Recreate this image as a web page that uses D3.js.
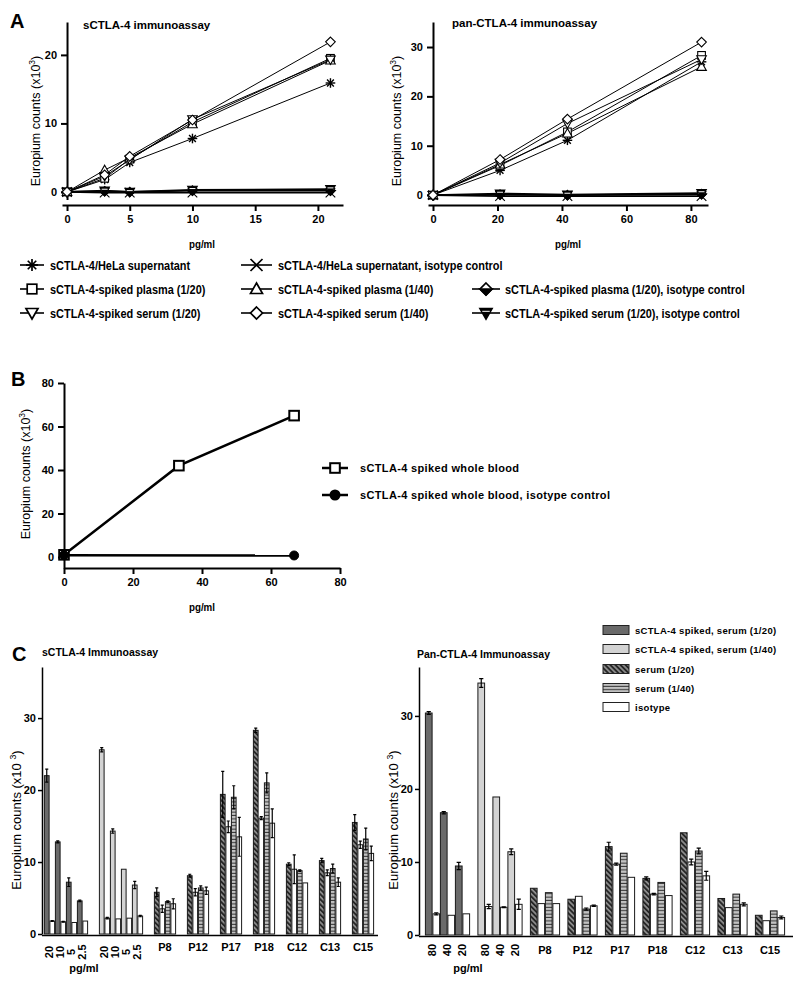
<!DOCTYPE html>
<html><head><meta charset="utf-8">
<script src="https://cdn.jsdelivr.net/npm/d3@7/dist/d3.min.js"></script>
<style>body{margin:0;background:#fff}svg{display:block}</style>
</head><body>
<script>
// ---------------- DATA ----------------
// Panel A (left): sCTLA-4 immunoassay
const aLeftX = [0, 3, 5, 10, 21];
const aLeftHela = [0, 1.8, 4.3, 7.8, 15.9];
const aLeftHelaIso = [0, -0.1, -0.1, -0.1, -0.1];
const aLeftPlasma20 = [0, 2.0, 4.8, 10.2, 19.5];
const aLeftPlasma40 = [0, 3.2, 5.0, 9.9, 19.2];
const aLeftPlasma20Iso = [0, 0.1, 0.0, 0.2, 0.2];
const aLeftSerum20 = [0, 2.3, 4.7, 10.6, 19.3];
const aLeftSerum40 = [0, 2.5, 5.2, 10.5, 21.9];
const aLeftSerum20Iso = [0, 0.2, 0.0, 0.3, 0.4];
const aLeftXTicks = [0, 5, 10, 15, 20];
const aLeftYTicks = [0, 10, 20];
// Panel A (right): pan-CTLA-4 immunoassay
const aRightX = [0, 20.8, 41.7, 83.3];
const aRightHela = [0, 5.0, 11.1, 27.0];
const aRightHelaIso = [0, -0.2, -0.2, -0.2];
const aRightPlasma20 = [0, 6.0, 12.8, 28.3];
const aRightPlasma40 = [0, 6.2, 12.5, 26.0];
const aRightPlasma20Iso = [0, 0.1, 0.0, 0.2];
const aRightSerum20 = [0, 6.5, 14.5, 27.5];
const aRightSerum40 = [0, 7.2, 15.4, 31.0];
const aRightSerum20Iso = [0, 0.3, 0.1, 0.4];
const aRightXTicks = [0, 20, 40, 60, 80];
const aRightYTicks = [0, 10, 20, 30];
const aSeriesNames = ["sCTLA-4/HeLa supernatant", "sCTLA-4/HeLa supernatant, isotype control",
  "sCTLA-4-spiked plasma (1/20)", "sCTLA-4-spiked plasma (1/40)", "sCTLA-4-spiked plasma (1/20), isotype control",
  "sCTLA-4-spiked serum (1/20)", "sCTLA-4-spiked serum (1/40)", "sCTLA-4-spiked serum (1/20), isotype control"];
const aSeriesMarkers = ["star", "x", "square", "triUp", "diamondHalf", "triDown", "diamond", "triDownHalf"];
// Panel B
const bX = [0, 33.3, 66.7];
const bBlood = [1, 42, 65];
const bIsoX = [0, 66.7];
const bBloodIso = [0.8, 0.7];
const bTicks = [0, 20, 40, 60, 80];
const bSeriesNames = ["sCTLA-4 spiked whole blood", "sCTLA-4 spiked whole blood, isotype control"];
// Panel C
const patients = ["P8", "P12", "P17", "P18", "C12", "C13", "C15"];
const cLeftConc = ["20", "10", "5", "2.5"];
const cLeftSpiked20 = [22.0, 12.8, 7.2, 4.6];
const cLeftSpiked20Err = [0.9, 0.15, 0.6, 0.1];
const cLeftSpiked20Iso = [1.8, 1.7, 1.6, 1.8];
const cLeftSpiked20IsoErr = [0.05, 0.05, 0, 0];
const cLeftSpiked40 = [25.6, 14.3, 9.0, 6.8];
const cLeftSpiked40Err = [0.3, 0.3, 0, 0.5];
const cLeftSpiked40Iso = [2.2, 2.1, 2.2, 2.5];
const cLeftSpiked40IsoErr = [0.1, 0, 0, 0.1];
const cLeftSerum20 = [5.8, 8.1, 19.4, 28.3, 9.7, 10.2, 15.5];
const cLeftSerum20Err = [0.6, 0.2, 3.2, 0.3, 0.2, 0.3, 1.1];
const cLeftSerum20Iso = [3.5, 5.8, 14.9, 16.1, 9.0, 8.5, 12.4];
const cLeftSerum20IsoErr = [0.5, 0.5, 0.8, 0.2, 2.0, 0.4, 0.5];
const cLeftSerum40 = [4.5, 6.4, 19.0, 21.0, 8.8, 9.1, 13.2];
const cLeftSerum40Err = [0.1, 0.3, 1.6, 1.4, 0.1, 0.6, 1.5];
const cLeftSerum40Iso = [4.2, 6.0, 13.5, 15.4, 7.1, 7.2, 11.2];
const cLeftSerum40IsoErr = [0.7, 0.5, 2.7, 2.0, 0, 0.6, 1.0];
const cRightConc = ["80", "40", "20"];
const cRightSpiked20 = [30.4, 16.75, 9.45];
const cRightSpiked20Err = [0.2, 0.15, 0.5];
const cRightSpiked20Iso = [2.9, 2.7, 2.9];
const cRightSpiked20IsoErr = [0.15, 0, 0];
const cRightSpiked40 = [34.5, 18.9, 11.4];
const cRightSpiked40Err = [0.6, 0, 0.4];
const cRightSpiked40Iso = [3.9, 3.8, 4.2];
const cRightSpiked40IsoErr = [0.3, 0.05, 0.7];
const cRightSerum20 = [6.4, 4.9, 12.1, 7.75, 14.0, 5.0, 2.7];
const cRightSerum20Err = [0, 0, 0.6, 0.2, 0, 0, 0];
const cRightSerum20Iso = [4.3, 5.3, 9.7, 5.6, 10.0, 3.75, 1.96];
const cRightSerum20IsoErr = [0, 0, 0.15, 0.1, 0.4, 0, 0];
const cRightSerum40 = [5.8, 3.55, 11.2, 7.2, 11.5, 5.6, 3.3];
const cRightSerum40Err = [0, 0.15, 0, 0, 0.4, 0, 0];
const cRightSerum40Iso = [4.3, 4.0, 7.9, 5.4, 8.1, 4.2, 2.4];
const cRightSerum40IsoErr = [0, 0.1, 0, 0, 0.6, 0.2, 0.2];
const cYTicks = [0, 10, 20, 30];
const cLegendNames = ["sCTLA-4 spiked, serum (1/20)", "sCTLA-4 spiked, serum (1/40)", "serum (1/20)", "serum (1/40)", "isotype"];

// ---------------- DRAWING ----------------
const FONT = '"Liberation Sans", Arial, Helvetica, sans-serif';
const svg = d3.select("body").append("svg").attr("width", 800).attr("height", 983)
  .style("font-family", FONT);

const defs = svg.append("defs");
const hatch = defs.append("pattern").attr("id", "hatch").attr("patternUnits", "userSpaceOnUse")
  .attr("width", 3.6).attr("height", 3.6).attr("patternTransform", "rotate(-45)");
hatch.append("rect").attr("width", 3.6).attr("height", 3.6).attr("fill", "#8f8f8f");
hatch.append("rect").attr("width", 1.9).attr("height", 3.6).attr("fill", "#262626");
const hs = defs.append("pattern").attr("id", "hstripe").attr("patternUnits", "userSpaceOnUse")
  .attr("width", 4).attr("height", 3.4);
hs.append("rect").attr("width", 4).attr("height", 3.4).attr("fill", "#c2c2c2");
hs.append("rect").attr("y", 2.4).attr("width", 4).attr("height", 1).attr("fill", "#333");

const FILL_DARK = "#6a6a6a", FILL_LIGHT = "#d3d3d3";
const cFills = [FILL_DARK, FILL_LIGHT, "url(#hatch)", "url(#hstripe)", "#fff"];

function styleAxis(g, size, weight, sw) {
  g.selectAll("path.domain").attr("stroke", "#000").attr("stroke-width", sw);
  g.selectAll(".tick line").attr("stroke", "#000").attr("stroke-width", sw);
  g.selectAll("text").attr("font-family", FONT).attr("font-size", size)
    .attr("font-weight", weight).attr("fill", "#000");
}

function drawMarker(g, type, x, y, r, sw) {
  const m = g.append("g").attr("transform", `translate(${x},${y})`)
    .attr("stroke", "#000").attr("stroke-width", sw).attr("fill", "#fff");
  if (type === "star") {
    for (let a = 0; a < 180; a += 45) {
      const t = a * Math.PI / 180;
      m.append("line").attr("x1", -r * Math.cos(t)).attr("y1", -r * Math.sin(t))
        .attr("x2", r * Math.cos(t)).attr("y2", r * Math.sin(t));
    }
  } else if (type === "x") {
    m.append("path").attr("d", `M${-r},${-r}L${r},${r}M${-r},${r}L${r},${-r}`);
  } else if (type === "square") {
    m.append("rect").attr("x", -r * 0.8).attr("y", -r * 0.8).attr("width", 1.6 * r).attr("height", 1.6 * r);
  } else if (type === "triUp") {
    m.append("path").attr("d", `M0,${-r}L${r},${r * 0.75}L${-r},${r * 0.75}Z`);
  } else if (type === "triDown") {
    m.append("path").attr("d", `M0,${r}L${r},${-r * 0.75}L${-r},${-r * 0.75}Z`);
  } else if (type === "diamond") {
    m.append("path").attr("d", `M0,${-r}L${r},0L0,${r}L${-r},0Z`);
  } else if (type === "diamondHalf") {
    m.append("path").attr("d", `M0,${-r}L${r},0L0,${r}L${-r},0Z`);
    m.append("path").attr("d", `M${-r},0L${r},0L0,${r}Z`).attr("fill", "#000");
  } else if (type === "triDownHalf") {
    m.append("path").attr("d", `M0,${r}L${r},${-r * 0.75}L${-r},${-r * 0.75}Z`).attr("fill", "#000");
    m.append("path").attr("d", `M${-r * 0.62},${-r * 0.28}L${r * 0.62},${-r * 0.28}`).attr("stroke", "#fff").attr("stroke-width", 1);
  } else if (type === "circleFill") {
    m.append("circle").attr("r", r).attr("fill", "#000");
  }
}

function yLabel(x, y, size, withSpace) {
  const t = svg.append("text").attr("transform", `translate(${x},${y}) rotate(-90)`)
    .attr("text-anchor", "middle").attr("font-size", size).attr("fill", "#000");
  t.append("tspan").text("Europium counts (x10" + (withSpace ? " " : ""));
  t.append("tspan").attr("dy", -size * 0.4).attr("font-size", size * 0.68).text("3");
  t.append("tspan").attr("dy", size * 0.4).text(")");
}

function labelText(x, y, txt, size, weight, anchor) {
  return svg.append("text").attr("x", x).attr("y", y).attr("font-size", size)
    .attr("font-weight", weight || "normal").attr("text-anchor", anchor || "start").attr("fill", "#000").text(txt);
}
// condensed bold text (narrow look of the original)
function narrow(sel, factor) {
  const w = sel.node().getComputedTextLength();
  sel.attr("textLength", w * factor).attr("lengthAdjust", "spacingAndGlyphs");
  return sel;
}

// ---- Panel A ----
function panelA(xs, seriesList, xDom, xRange, yDom, yRange, xTicks, yTicks, xAxisY) {
  const x = d3.scaleLinear().domain(xDom).range(xRange);
  const y = d3.scaleLinear().domain(yDom).range(yRange);
  const g = svg.append("g");
  const gx = g.append("g").attr("transform", `translate(0,${xAxisY})`)
    .call(d3.axisBottom(x).tickValues(xTicks).tickSize(6).tickSizeOuter(0).tickPadding(4));
  styleAxis(gx, 11, "bold", 2);
  const gy = g.append("g").attr("transform", `translate(${x(0)},0)`)
    .call(d3.axisLeft(y).tickValues(yTicks).tickSize(6).tickSizeOuter(0).tickPadding(4));
  styleAxis(gy, 11, "bold", 2);
  const line = d3.line().x((d, i) => x(xs[i])).y(d => y(d));
  seriesList.forEach(s => {
    g.append("path").attr("d", line(s.v)).attr("fill", "none").attr("stroke", "#000")
      .attr("stroke-width", s.iso ? 1.8 : 1);
  });
  seriesList.forEach(s => {
    s.v.forEach((v, i) => drawMarker(g, s.m, x(xs[i]), y(v), 4.8, s.m === "star" ? 1.4 : 1.1));
  });
}

panelA(aLeftX, [
  { v: aLeftHelaIso, m: "x", iso: true },
  { v: aLeftPlasma20Iso, m: "diamondHalf", iso: true },
  { v: aLeftSerum20Iso, m: "triDownHalf", iso: true },
  { v: aLeftHela, m: "star" },
  { v: aLeftPlasma20, m: "square" },
  { v: aLeftPlasma40, m: "triUp" },
  { v: aLeftSerum20, m: "triDown" },
  { v: aLeftSerum40, m: "diamond" }
], [-0.4, 22], [62, 343], [-1.1, 24.8], [199.5, 22], aLeftXTicks, aLeftYTicks, 205);

panelA(aRightX, [
  { v: aRightHelaIso, m: "x", iso: true },
  { v: aRightPlasma20Iso, m: "diamondHalf", iso: true },
  { v: aRightSerum20Iso, m: "triDownHalf", iso: true },
  { v: aRightHela, m: "star" },
  { v: aRightPlasma20, m: "square" },
  { v: aRightPlasma40, m: "triUp" },
  { v: aRightSerum20, m: "triDown" },
  { v: aRightSerum40, m: "diamond" }
], [-1.55, 85.3], [428, 708], [-1.0, 35.07], [200, 22], aRightXTicks, aRightYTicks, 205);

labelText(10, 28, "A", 20, "bold");
labelText(83, 29, "sCTLA-4 immunoassay", 11.5, "bold");
labelText(452, 27, "pan-CTLA-4 immunoassay", 11.5, "bold");
yLabel(40, 121, 12.5, false);
yLabel(401, 121, 12.5, false);
narrow(labelText(202, 248, "pg/ml", 11.5, "bold", "middle"), 0.85);
narrow(labelText(568, 248, "pg/ml", 11.5, "bold", "middle"), 0.85);

// Legend A
const legRowsA = [265, 289, 313];
const legColsA = [[20, 44, 50], [241, 272, 278], [472, 500, 505]];
const legPosA = [[0, 0], [0, 1], [1, 0], [1, 1], [1, 2], [2, 0], [2, 1], [2, 2]];
aSeriesNames.forEach((name, i) => {
  const [r, c] = legPosA[i];
  const [l0, l1, tx] = legColsA[c];
  const yy = legRowsA[r];
  svg.append("line").attr("x1", l0).attr("x2", l1).attr("y1", yy).attr("y2", yy)
    .attr("stroke", "#000").attr("stroke-width", 1.6);
  drawMarker(svg, aSeriesMarkers[i], (l0 + l1) / 2, yy, 6, 1.7);
  narrow(labelText(tx, yy + 4.5, name, 12, "bold"), 0.91);
});

// ---- Panel B ----
{
  const x = d3.scaleLinear().domain([0, 80]).range([64, 340]);
  const y = d3.scaleLinear().domain([-5.06, 80]).range([568, 383]);
  const g = svg.append("g");
  const gx = g.append("g").attr("transform", `translate(0,568)`)
    .call(d3.axisBottom(x).tickValues(bTicks).tickSize(6).tickSizeOuter(0).tickPadding(4));
  styleAxis(gx, 11, "bold", 2);
  const gy = g.append("g").attr("transform", `translate(64,0)`)
    .call(d3.axisLeft(y).tickValues(bTicks).tickSize(6).tickSizeOuter(0).tickPadding(4));
  styleAxis(gy, 11, "bold", 2);
  const line1 = d3.line().x((d, i) => x(bX[i])).y(d => y(d));
  const line2 = d3.line().x((d, i) => x(bIsoX[i])).y(d => y(d));
  g.append("path").attr("d", line1(bBlood)).attr("fill", "none").attr("stroke", "#000").attr("stroke-width", 2.5);
  g.append("path").attr("d", line2(bBloodIso)).attr("fill", "none").attr("stroke", "#000").attr("stroke-width", 2.5);
  bBlood.forEach((v, i) => drawMarker(g, "square", x(bX[i]), y(v), 6, 2));
  bBloodIso.forEach((v, i) => drawMarker(g, "circleFill", x(bIsoX[i]), y(v), 4.5, 1));
  labelText(11, 386, "B", 20, "bold");
  yLabel(30, 474, 12.5, false);
  narrow(labelText(202, 611, "pg/ml", 11.5, "bold", "middle"), 0.85);
  const legY = [468, 495];
  const legM = ["square", "circleFill"];
  bSeriesNames.forEach((name, i) => {
    svg.append("line").attr("x1", 322).attr("x2", 348).attr("y1", legY[i]).attr("y2", legY[i])
      .attr("stroke", "#000").attr("stroke-width", 2.5);
    drawMarker(svg, legM[i], 335, legY[i], legM[i] === "square" ? 6 : 4.5, 2);
    labelText(360, legY[i] + 4, name, 11, "bold").attr("letter-spacing", 0.35);
  });
}

// ---- Panel C ----
function panelC(opts) {
  const { yRange, yTop, xAxisX0, xAxisX1, slotX0, slot, conc, spiked20, spiked20Err, spiked20Iso, spiked20IsoErr,
    spiked40, spiked40Err, spiked40Iso, spiked40IsoErr, s20, s20e, s20i, s20ie, s40, s40e, s40i, s40ie, gap, numY, patY } = opts;
  const nC = conc.length;
  const g2Start = 2 * nC + gap;
  const pStart = g2Start + 2 * nC + gap;
  const totalUnits = pStart + patients.length * (4 + gap) - gap;
  const xs = d3.scaleLinear().domain([0, totalUnits]).range([slotX0, slotX0 + totalUnits * slot]);
  const y = d3.scaleLinear().domain([0, yTop]).range(yRange);
  const g = svg.append("g");
  const bars = [];
  for (let i = 0; i < nC; i++) {
    bars.push({ u: 2 * i, v: spiked20[i], e: spiked20Err[i], f: cFills[0] });
    bars.push({ u: 2 * i + 1, v: spiked20Iso[i], e: spiked20IsoErr[i], f: cFills[4] });
    bars.push({ u: g2Start + 2 * i, v: spiked40[i], e: spiked40Err[i], f: cFills[1] });
    bars.push({ u: g2Start + 2 * i + 1, v: spiked40Iso[i], e: spiked40IsoErr[i], f: cFills[4] });
  }
  patients.forEach((p, k) => {
    const u0 = pStart + k * (4 + gap);
    bars.push({ u: u0, v: s20[k], e: s20e[k], f: cFills[2] });
    bars.push({ u: u0 + 1, v: s20i[k], e: s20ie[k], f: cFills[4] });
    bars.push({ u: u0 + 2, v: s40[k], e: s40e[k], f: cFills[3] });
    bars.push({ u: u0 + 3, v: s40i[k], e: s40ie[k], f: cFills[4] });
  });
  const bw = xs(1) - xs(0);
  g.selectAll("rect.bar").data(bars).enter().append("rect").attr("class", "bar")
    .attr("x", d => xs(d.u) + 0.4).attr("width", bw - 0.8)
    .attr("y", d => y(d.v)).attr("height", d => y(0) - y(d.v))
    .attr("fill", d => d.f).attr("stroke", "#1a1a1a").attr("stroke-width", 1);
  bars.filter(d => d.e > 0).forEach(d => {
    const cx = xs(d.u + 0.5);
    const cap = bw * 0.28;
    g.append("path").attr("d",
      `M${cx},${y(d.v - d.e)}L${cx},${y(d.v + d.e)}M${cx - cap},${y(d.v + d.e)}L${cx + cap},${y(d.v + d.e)}M${cx - cap},${y(d.v - d.e)}L${cx + cap},${y(d.v - d.e)}`)
      .attr("stroke", "#000").attr("stroke-width", 1.2).attr("fill", "none");
  });
  // axes
  const gy = g.append("g").attr("transform", `translate(${xAxisX0},0)`)
    .call(d3.axisLeft(y).tickValues(cYTicks).tickSize(4).tickSizeOuter(0).tickPadding(2));
  styleAxis(gy, 11, "bold", 1.5);
  g.append("line").attr("x1", xAxisX0).attr("x2", xAxisX1).attr("y1", y(0) + 1.5).attr("y2", y(0) + 1.5)
    .attr("stroke", "#000").attr("stroke-width", 1.5);
  // labels
  [0, g2Start].forEach(st => {
    conc.forEach((c, i) => {
      const cx = xs(st + 2 * i + 1);
      svg.append("text").attr("transform", `translate(${cx},${numY}) rotate(-90)`)
        .attr("text-anchor", "middle").attr("dy", "0.36em").attr("font-size", 11).attr("font-weight", "bold")
        .attr("fill", "#000").text(c);
    });
  });
  patients.forEach((p, k) => {
    const u0 = pStart + k * (4 + gap);
    labelText(xs(u0 + 2), patY, p, 11, "bold", "middle");
  });
  return { xs, y, pStart };
}

panelC({
  yRange: [934, 667], yTop: 37.1, xAxisX0: 42, xAxisX1: 378, slotX0: 44, slot: 5.5, gap: 2,
  conc: cLeftConc, spiked20: cLeftSpiked20, spiked20Err: cLeftSpiked20Err, spiked20Iso: cLeftSpiked20Iso, spiked20IsoErr: cLeftSpiked20IsoErr,
  spiked40: cLeftSpiked40, spiked40Err: cLeftSpiked40Err, spiked40Iso: cLeftSpiked40Iso, spiked40IsoErr: cLeftSpiked40IsoErr,
  s20: cLeftSerum20, s20e: cLeftSerum20Err, s20i: cLeftSerum20Iso, s20ie: cLeftSerum20IsoErr,
  s40: cLeftSerum40, s40e: cLeftSerum40Err, s40i: cLeftSerum40Iso, s40ie: cLeftSerum40IsoErr,
  numY: 952, patY: 951
});
panelC({
  yRange: [935, 667], yTop: 36.7, xAxisX0: 419, xAxisX1: 793, slotX0: 425, slot: 7.5, gap: 1,
  conc: cRightConc, spiked20: cRightSpiked20, spiked20Err: cRightSpiked20Err, spiked20Iso: cRightSpiked20Iso, spiked20IsoErr: cRightSpiked20IsoErr,
  spiked40: cRightSpiked40, spiked40Err: cRightSpiked40Err, spiked40Iso: cRightSpiked40Iso, spiked40IsoErr: cRightSpiked40IsoErr,
  s20: cRightSerum20, s20e: cRightSerum20Err, s20i: cRightSerum20Iso, s20ie: cRightSerum20IsoErr,
  s40: cRightSerum40, s40e: cRightSerum40Err, s40i: cRightSerum40Iso, s40ie: cRightSerum40IsoErr,
  numY: 950, patY: 954
});

labelText(12, 661, "C", 20, "bold");
labelText(42, 656, "sCTLA-4 Immunoassay", 10.5, "bold");
labelText(417, 658, "Pan-CTLA-4 Immunoassay", 10.5, "bold");
yLabel(21, 820, 13, true);
yLabel(398, 820, 13, true);
labelText(84, 972, "pg/ml", 11, "bold", "middle");
labelText(468, 972, "pg/ml", 11, "bold", "middle");

// Legend C
const legRowsC = [630, 649, 669, 688, 707];
cLegendNames.forEach((name, i) => {
  svg.append("rect").attr("x", 603).attr("y", legRowsC[i] - 4.5).attr("width", 26).attr("height", 9)
    .attr("fill", cFills[i]).attr("stroke", "#222").attr("stroke-width", 1);
  labelText(635, legRowsC[i] + 3.5, name, 9.5, "bold").attr("letter-spacing", 0.3);
});
</script>
</body></html>
